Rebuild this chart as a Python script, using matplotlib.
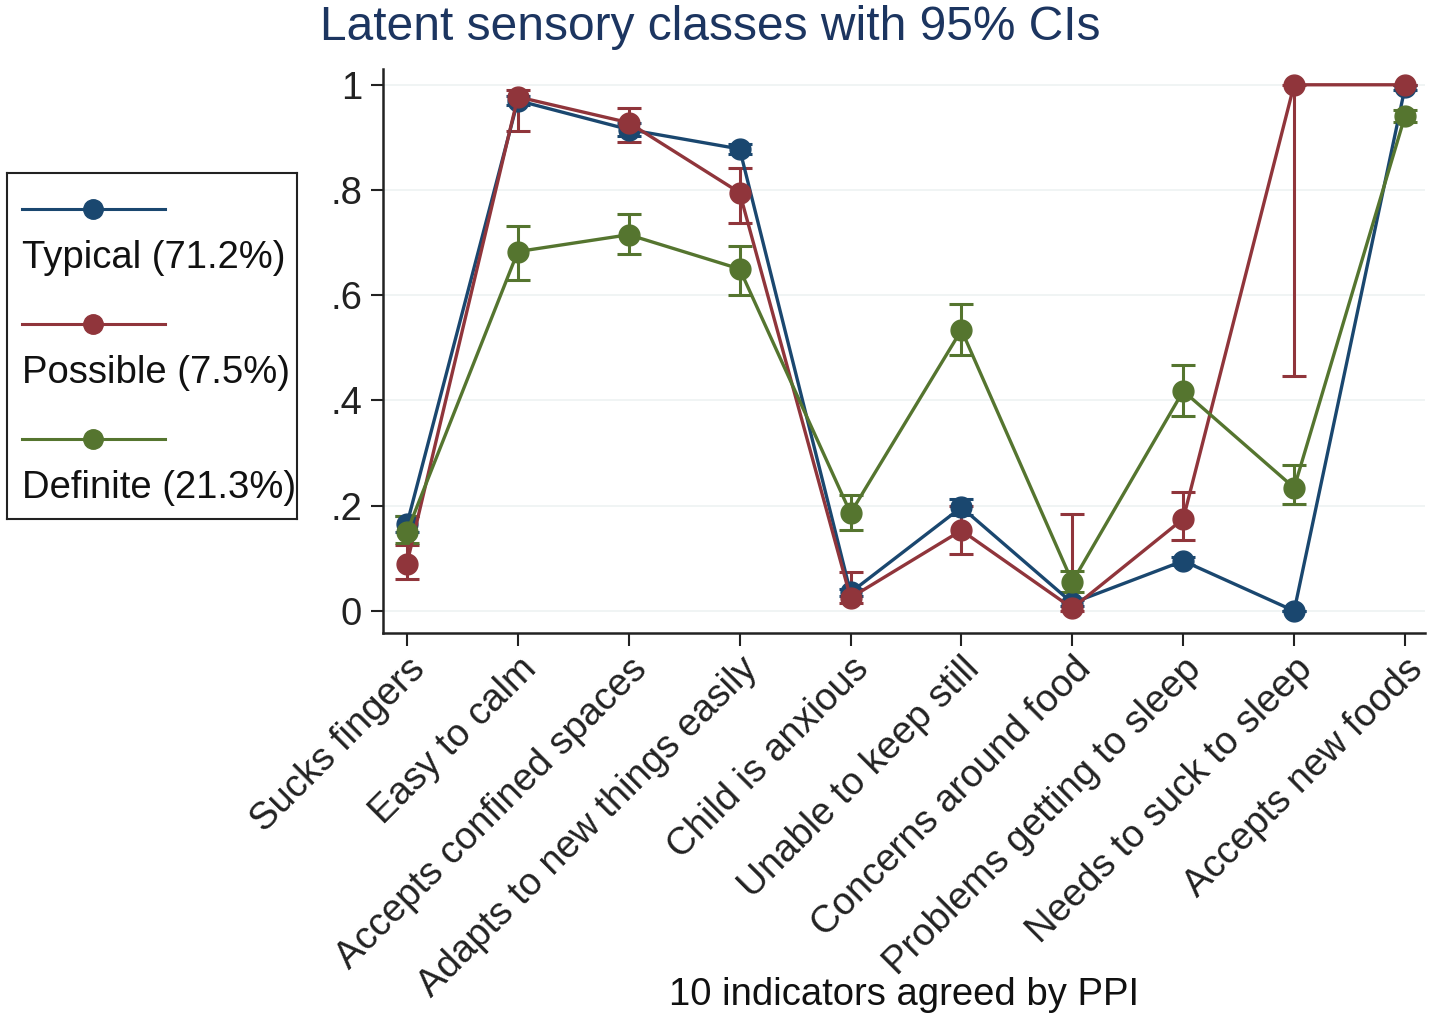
import numpy as np
import matplotlib
matplotlib.use("Agg")
import matplotlib.pyplot as plt

plt.rcParams['font.family'] = ['Liberation Sans', 'DejaVu Sans']

indicators = ["Sucks fingers", "Easy to calm", "Accepts confined spaces",
              "Adapts to new things easily", "Child is anxious",
              "Unable to keep still", "Concerns around food",
              "Problems getting to sleep", "Needs to suck to sleep",
              "Accepts new foods"]

class_names = ["Typical (71.2%)", "Possible (7.5%)", "Definite (21.3%)"]
class_colors = ["#1a476f", "#90353b", "#55752f"]

typical = [0.165, 0.970, 0.915, 0.878, 0.035, 0.197, 0.015, 0.095, 0.000, 0.995]
typical_lo = [0.150, 0.962, 0.903, 0.868, 0.028, 0.183, 0.010, 0.087, 0.000, 0.990]
typical_hi = [0.180, 0.978, 0.927, 0.888, 0.042, 0.212, 0.020, 0.103, 0.000, 1.000]

possible = [0.090, 0.977, 0.928, 0.795, 0.025, 0.153, 0.005, 0.175, 1.000, 1.000]
possible_lo = [0.060, 0.913, 0.891, 0.737, 0.015, 0.108, 0.000, 0.135, 0.447, 1.000]
possible_hi = [0.125, 0.990, 0.956, 0.842, 0.074, 0.200, 0.184, 0.226, 1.000, 1.000]

definite = [0.150, 0.683, 0.715, 0.650, 0.186, 0.534, 0.055, 0.418, 0.234, 0.941]
definite_lo = [0.129, 0.629, 0.678, 0.601, 0.154, 0.487, 0.035, 0.370, 0.204, 0.930]
definite_hi = [0.180, 0.732, 0.754, 0.694, 0.220, 0.584, 0.075, 0.468, 0.278, 0.952]

series = [(typical, typical_lo, typical_hi),
          (possible, possible_lo, possible_hi),
          (definite, definite_lo, definite_hi)]

W, H = 1437, 1028
FS = 27.5
fig = plt.figure(figsize=(W / 100, H / 100), dpi=100)
ax = fig.add_axes([383 / W, 1 - 633 / H, (1425 - 383) / W, (633 - 69) / H])

x = np.arange(1, len(indicators) + 1)
for (est, lo, hi), col in zip(series, class_colors):
    est = np.array(est)
    yerr = np.vstack([est - np.array(lo), np.array(hi) - est])
    ax.errorbar(x, est, yerr=yerr, color=col, lw=2.4, marker='o', ms=15,
                elinewidth=2.2, capsize=8.5, capthick=2.2)

ax.set_xlim(0.784, 10.18)
ax.set_ylim(-0.042, 1.03)
yt = [0, 0.2, 0.4, 0.6, 0.8, 1]
ax.set_yticks(yt)
ax.set_yticklabels(["0", ".2", ".4", ".6", ".8", "1"])
ax.set_xticks(x)
ax.set_xticklabels(indicators, rotation=45, ha='right', va='top',
                   rotation_mode='anchor')
ax.tick_params(axis='both', labelsize=FS, length=9, width=1.5, colors='#222222')
ax.tick_params(axis='y', pad=6)
ax.tick_params(axis='x', pad=4)
ax.grid(axis='y', color='#eef2f2', lw=1.2)
ax.set_axisbelow(True)
for s in ['top', 'right']:
    ax.spines[s].set_visible(False)
for s in ['left', 'bottom']:
    ax.spines[s].set_linewidth(1.8)
    ax.spines[s].set_color('#222222')

fig.text(904 / W, 1 - 995 / H, "10 indicators agreed by PPI", ha='center',
         va='center', fontsize=FS, color='#111111')
fig.text(710 / W, 1 - 27 / H, "Latent sensory classes with 95% CIs",
         ha='center', va='center', fontsize=34.5, color='#1c3560')

# legend box: line with marker above label, Stata style
lg = fig.add_axes([7 / W, 1 - 519 / H, 290 / W, 346 / H])
lg.set_xlim(0, 290)
lg.set_ylim(346, 0)
lg.set_xticks([])
lg.set_yticks([])
for s in lg.spines.values():
    s.set_linewidth(1.5)
    s.set_color('#222222')
for i, (name, col) in enumerate(zip(class_names, class_colors)):
    y0 = 36 + i * 115
    lg.plot([15, 158], [y0, y0], color=col, lw=2.2)
    lg.plot([86], [y0], 'o', color=col, ms=14)
    lg.text(15, y0 + 49, name, fontsize=FS, va='center', ha='left',
            color='#111111', clip_on=False)

fig.savefig("out.png", dpi=100)
